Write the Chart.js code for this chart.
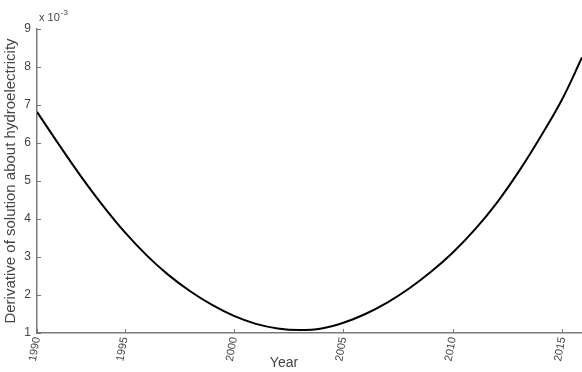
<!DOCTYPE html>
<html>
<head>
<meta charset="utf-8">
<script src="https://cdn.jsdelivr.net/npm/chart.js@4/dist/chart.umd.min.js"></script>
<style>
  html, body { margin: 0; padding: 0; background: #fff; }
  #wrap { width: 582px; height: 372px; position: relative; }
</style>
</head>
<body>
<div id="wrap"><canvas id="c" width="582" height="372"></canvas></div>
<script>
// ---- data (values in units of 1e-3, as displayed) ----
const xIndex = [1,2,3,4,5,6,7,8,9,10,11,12,13,14,15,16,17,18,19,20,21,22,23,24,25,25.9];
const derivValues = [6.82,5.96,5.13,4.36,3.66,3.05,2.53,2.10,1.74,1.45,1.24,1.12,1.08,1.12,1.27,1.50,1.80,2.17,2.61,3.12,3.72,4.42,5.24,6.16,7.16,8.25];
const xTickPositions = [1,5,10,15,20,25];
const xTickLabels = ['1990','1995','2000','2005','2010','2015'];
const yTickValues = [1,2,3,4,5,6,7,8,9];
const yAxisTitle = 'Derivative of solution about hydroelectricity';
const xAxisTitle = 'Year';
const multiplierBase = 'x 10';
const multiplierExp = '-3';

const FONT = '"Liberation Sans", Arial, sans-serif';
const AXIS_COLOR = '#7a7a7a';

const decor = {
  id: 'decor',
  afterDraw(chart) {
    const ctx = chart.ctx, xs = chart.scales.x, ys = chart.scales.y;
    ctx.save();
    ctx.strokeStyle = AXIS_COLOR;
    ctx.lineWidth = 1;
    ctx.beginPath();
    ys.ticks.forEach(t => {
      const y = Math.round(ys.getPixelForValue(t.value)) + 0.5;
      ctx.moveTo(xs.left, y); ctx.lineTo(xs.left + 4, y);
    });
    xs.ticks.forEach(t => {
      const x = Math.round(xs.getPixelForValue(t.value)) + 0.5;
      ctx.moveTo(x, ys.bottom); ctx.lineTo(x, ys.bottom - 4);
    });
    ctx.stroke();
    // multiplier label
    ctx.fillStyle = '#444';
    ctx.textBaseline = 'alphabetic';
    ctx.textAlign = 'left';
    ctx.font = '11px ' + FONT;
    ctx.fillText(multiplierBase, xs.left + 2, ys.top - 8);
    const w = ctx.measureText(multiplierBase).width;
    ctx.font = '8px ' + FONT;
    ctx.fillText(multiplierExp, xs.left + 2 + w + 1, ys.top - 14);
    // x title
    ctx.font = '14px ' + FONT;
    ctx.textAlign = 'center';
    ctx.fillStyle = '#444';
    ctx.fillText(xAxisTitle, 284, 367);
    ctx.restore();
  }
};

new Chart(document.getElementById('c'), {
  type: 'line',
  data: {
    datasets: [{
      data: xIndex.map((x, i) => ({ x: x, y: derivValues[i] })),
      borderColor: '#000',
      borderWidth: 2,
      pointRadius: 0,
      fill: false,
      tension: 0.4
    }]
  },
  options: {
    responsive: false,
    animation: false,
    devicePixelRatio: 1,
    layout: { padding: { top: 29, right: 0, left: 0, bottom: 0 } },
    plugins: { legend: { display: false }, tooltip: { enabled: false } },
    scales: {
      x: {
        type: 'linear',
        min: 1,
        max: 25.9,
        afterBuildTicks(scale) { scale.ticks = xTickPositions.map(v => ({ value: v })); },
        afterFit(scale) { scale.height = 39; },
        grid: { display: true, drawOnChartArea: false, drawTicks: false },
        border: { display: true, color: AXIS_COLOR, width: 1.5 },
        ticks: {
          autoSkip: false,
          minRotation: 80,
          maxRotation: 80,
          padding: 3,
          color: '#444',
          font: { family: FONT, size: 11 },
          callback(v) { const i = xTickPositions.indexOf(v); return i >= 0 ? xTickLabels[i] : ''; }
        }
      },
      y: {
        type: 'linear',
        min: 1,
        max: 9,
        afterBuildTicks(scale) { scale.ticks = yTickValues.map(v => ({ value: v })); },
        afterFit(scale) { scale.width = 37; },
        grid: { display: true, drawOnChartArea: false, drawTicks: false },
        border: { display: true, color: AXIS_COLOR, width: 1.5 },
        title: {
          display: true,
          text: yAxisTitle,
          color: '#444',
          font: { family: FONT, size: 15 },
          padding: { top: 2, bottom: 0 }
        },
        ticks: {
          padding: 6,
          color: '#444',
          font: { family: FONT, size: 12 }
        }
      }
    }
  },
  plugins: [decor]
});
</script>
</body>
</html>
